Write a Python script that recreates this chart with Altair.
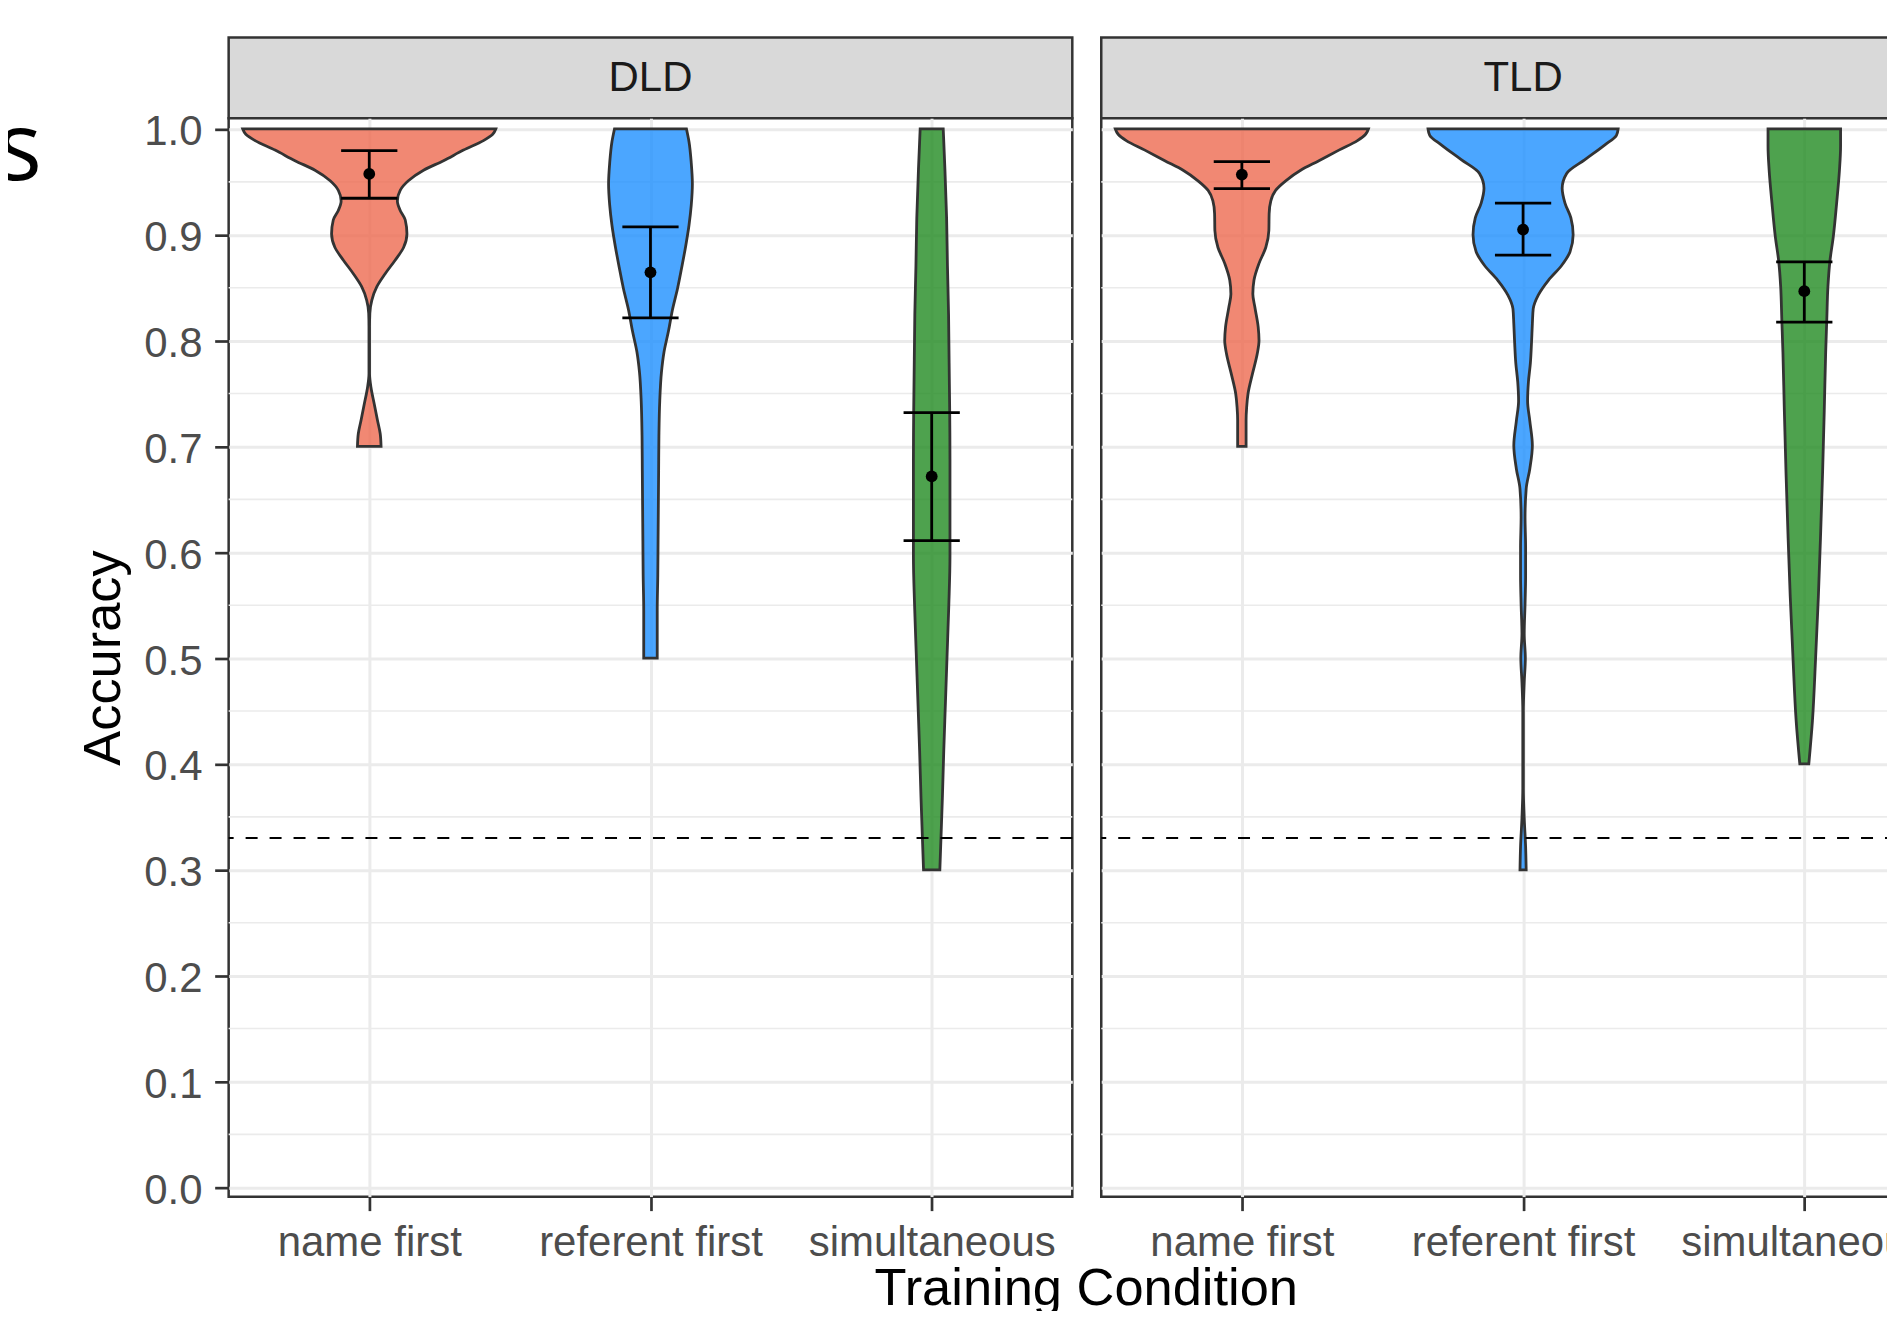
import altair as alt
import pandas as pd

# ---------------- data ----------------
conditions = ["name first", "referent first", "simultaneous"]
groups = ["DLD", "TLD"]
fill_colors = ["#EE6A50", "#1E90FF", "#228B22"]
clipped_title = "s"
x_title = "Training Condition"
y_title = "Accuracy"

# violin outlines: accuracy level and half-width (in category units)
dld_name_acc = [1.000, 0.995, 0.989, 0.980, 0.970, 0.961, 0.951, 0.942, 0.932, 0.923, 0.914, 0.901, 0.888,
                0.876, 0.863, 0.851, 0.838, 0.826, 0.813, 0.788, 0.769, 0.756, 0.741, 0.725, 0.712, 0.700]
dld_name_hw = [0.450, 0.439, 0.406, 0.335, 0.264, 0.193, 0.139, 0.110, 0.100, 0.110, 0.128, 0.134, 0.122,
               0.092, 0.056, 0.027, 0.009, 0.002, 0.001, 0.001, 0.001, 0.006, 0.017, 0.029, 0.039, 0.042]

dld_ref_acc = [1.000, 0.988, 0.968, 0.948, 0.928, 0.909, 0.889, 0.869, 0.849, 0.829, 0.809, 0.789, 0.770,
               0.743, 0.710, 0.677, 0.644, 0.611, 0.578, 0.545, 0.500]
dld_ref_hw = [0.128, 0.137, 0.145, 0.149, 0.145, 0.137, 0.125, 0.111, 0.096, 0.078, 0.064, 0.048, 0.039,
              0.033, 0.030, 0.029, 0.028, 0.027, 0.026, 0.024, 0.024]

dld_sim_acc = [1.000, 0.962, 0.916, 0.871, 0.825, 0.779, 0.734, 0.688, 0.642, 0.596, 0.551, 0.505, 0.459,
               0.413, 0.368, 0.300]
dld_sim_hw = [0.041, 0.047, 0.053, 0.056, 0.060, 0.062, 0.064, 0.065, 0.065, 0.065, 0.061, 0.055, 0.049,
              0.043, 0.038, 0.029]

tld_name_acc = [1.000, 0.995, 0.989, 0.980, 0.970, 0.961, 0.951, 0.942, 0.932, 0.920, 0.904, 0.888, 0.873,
                0.857, 0.844, 0.832, 0.813, 0.800, 0.788, 0.769, 0.750, 0.737, 0.725, 0.700]
tld_name_hw = [0.450, 0.440, 0.411, 0.345, 0.274, 0.209, 0.156, 0.120, 0.103, 0.097, 0.096, 0.085, 0.061,
               0.043, 0.039, 0.046, 0.058, 0.061, 0.055, 0.038, 0.022, 0.017, 0.015, 0.015]

tld_ref_acc = [1.000, 0.994, 0.985, 0.971, 0.958, 0.944, 0.930, 0.916, 0.900, 0.884, 0.871, 0.857, 0.843,
               0.830, 0.816, 0.798, 0.779, 0.761, 0.743, 0.724, 0.701, 0.679, 0.660, 0.633, 0.605, 0.578,
               0.551, 0.523, 0.500, 0.477, 0.450, 0.413, 0.377, 0.349, 0.322, 0.300]
tld_ref_hw = [0.338, 0.332, 0.291, 0.220, 0.155, 0.139, 0.149, 0.170, 0.178, 0.167, 0.137, 0.090, 0.054,
              0.036, 0.033, 0.030, 0.026, 0.019, 0.016, 0.024, 0.033, 0.024, 0.011, 0.007, 0.009, 0.009,
              0.007, 0.004, 0.008, 0.004, 0.001, 0.001, 0.001, 0.004, 0.009, 0.011]

tld_sim_acc = [1.000, 0.984, 0.961, 0.930, 0.898, 0.875, 0.851, 0.820, 0.789, 0.734, 0.675, 0.617, 0.558,
               0.499, 0.441, 0.400]
tld_sim_hw = [0.129, 0.129, 0.125, 0.115, 0.103, 0.091, 0.084, 0.080, 0.076, 0.071, 0.065, 0.058, 0.050,
              0.040, 0.029, 0.016]

# means and confidence intervals
mean_group = ["DLD", "DLD", "DLD", "TLD", "TLD", "TLD"]
mean_condition = conditions + conditions
mean_accuracy = [0.9575, 0.8645, 0.6717, 0.9569, 0.9049, 0.8467]
ci_lower = [0.9345, 0.8215, 0.6110, 0.9437, 0.8807, 0.8174]
ci_upper = [0.9795, 0.9075, 0.7320, 0.9692, 0.9300, 0.8744]

chance_level = [0.33]
y_major = [0.0, 0.1, 0.2, 0.3, 0.4, 0.5, 0.6, 0.7, 0.8, 0.9, 1.0]
y_minor = [0.05, 0.15, 0.25, 0.35, 0.45, 0.55, 0.65, 0.75, 0.85, 0.95]
x_positions = [1, 2, 3]

# ---------------- tables ----------------
violins = [
    ("DLD", "name first", dld_name_acc, dld_name_hw),
    ("DLD", "referent first", dld_ref_acc, dld_ref_hw),
    ("DLD", "simultaneous", dld_sim_acc, dld_sim_hw),
    ("TLD", "name first", tld_name_acc, tld_name_hw),
    ("TLD", "referent first", tld_ref_acc, tld_ref_hw),
    ("TLD", "simultaneous", tld_sim_acc, tld_sim_hw),
]
rows = []
for g, c, accs, hws in violins:
    pos = conditions.index(c) + 1
    for a, w in zip(accs, hws):
        rows.append({"group": g, "condition": c, "acc": a, "pos": pos, "hw": w})
violin_df = pd.DataFrame(rows)

mean_df = pd.DataFrame({
    "group": mean_group,
    "condition": mean_condition,
    "pos": [conditions.index(c) + 1 for c in mean_condition],
    "mean": mean_accuracy,
    "ci_lo": ci_lower,
    "ci_hi": ci_upper,
})
minor_df = pd.DataFrame({"v": y_minor})
chance_df = pd.DataFrame({"v": chance_level})

# ---------------- styling ----------------
FONT = "Liberation Sans"
PANEL_W = 845
PANEL_H = 1080
STRIP_H = 81
x_scale = alt.Scale(domain=[0.5, 3.5], nice=False, zero=False)
y_scale = alt.Scale(domain=[-0.0088, 1.0100], nice=False, zero=False)
color_scale = alt.Scale(domain=conditions, range=fill_colors)
label_expr = "[" + ", ".join("'%s'" % c for c in conditions) + "][datum.value - 1]"

tick_style = dict(tickColor="#333333", tickWidth=2.7, tickSize=14,
                  labelColor="#4D4D4D", labelFont=FONT, labelFontSize=42, labelLimit=600,
                  labelOverlap=False, domain=False,
                  grid=True, gridColor="#EBEBEB", gridWidth=3)


def make_x_axis(first):
    if first:
        return alt.Axis(values=x_positions, labelExpr=label_expr, labelFlush=False,
                        labelBaseline="alphabetic", labelPadding=44.5,
                        title=x_title, titleFont=FONT, titleFontSize=52.5, titleFontWeight="normal",
                        titleColor="black", titleX=858.5, titleY=108.5, titleAlign="center",
                        titleBaseline="alphabetic", titleLimit=1000, **tick_style)
    return alt.Axis(values=x_positions, labelExpr=label_expr, labelFlush=False,
                    labelBaseline="alphabetic", labelPadding=44.5, title=None, **tick_style)


def make_y_axis(first):
    if first:
        return alt.Axis(values=y_major, format=".1f", labelPadding=12.6, labelOffset=3,
                        title=y_title, titleFont=FONT, titleFontSize=52.5, titleFontWeight="normal",
                        titleColor="black", titleX=-109, titleY=PANEL_H / 2, titleAngle=270,
                        titleAlign="center", titleBaseline="alphabetic", **tick_style)
    return alt.Axis(values=y_major, labels=False, ticks=False, title=None, domain=False,
                    grid=True, gridColor="#EBEBEB", gridWidth=3)


def panel(g, first):
    x_axis = make_x_axis(first)
    y_axis = make_y_axis(first)

    def X(f):
        return alt.X(f, type="quantitative", scale=x_scale, axis=x_axis)

    def Y(f):
        return alt.Y(f, type="quantitative", scale=y_scale, axis=y_axis)

    vd = violin_df[violin_df["group"] == g]
    md = mean_df[mean_df["group"] == g]

    minor = alt.Chart(minor_df).mark_rule(color="#EBEBEB", strokeWidth=1.6).encode(y=Y("v"))

    violin = alt.Chart(vd).transform_calculate(
        lo="datum.pos - datum.hw", hi="datum.pos + datum.hw"
    ).mark_area(
        orient="horizontal", interpolate="monotone", stroke="#333333",
        strokeWidth=2.8, fillOpacity=0.8
    ).encode(
        y=Y("acc"), x=X("lo"), x2="hi:Q",
        color=alt.Color("condition:N", scale=color_scale, legend=None),
        detail="condition:N",
    )

    chance = alt.Chart(chance_df).mark_rule(
        color="black", strokeWidth=2, strokeDash=[12, 12]
    ).encode(y=Y("v"))

    bars = alt.Chart(md).mark_rule(color="black", strokeWidth=2.8).encode(
        x=X("pos"), y=Y("ci_lo"), y2="ci_hi:Q"
    )

    caps = alt.Chart(md).transform_calculate(
        a="datum.pos - 0.1", b="datum.pos + 0.1"
    ).transform_fold(["ci_lo", "ci_hi"], as_=["end", "val"]).mark_rule(
        color="black", strokeWidth=2.8
    ).encode(x=X("a"), x2="b:Q", y=Y("val"))

    points = alt.Chart(md).mark_circle(size=140, color="black", opacity=1).encode(
        x=X("pos"), y=Y("mean")
    )

    return alt.layer(minor, violin, chance, bars, caps, points).properties(
        width=PANEL_W, height=PANEL_H,
        view=alt.ViewBackground(fill="white", stroke="#333333", strokeWidth=2.5),
    )


def strip(g, first):
    base = alt.Chart(pd.DataFrame({"group": [g]}))
    lab = base.mark_text(font=FONT, fontSize=42, color="#1A1A1A", baseline="middle",
                         align="center").encode(
        x=alt.value(PANEL_W / 2), y=alt.value(41), text="group:N")
    layers = [lab]
    if first:
        s = base.mark_text(text=clipped_title, font="Open Sans", fontSize=95, color="black",
                           align="right", baseline="alphabetic").encode(
            x=alt.value(-187), y=alt.value(143))
        layers.append(s)
    return alt.layer(*layers).properties(
        width=PANEL_W, height=STRIP_H,
        view=alt.ViewBackground(fill="#D9D9D9", stroke="#333333", strokeWidth=2.5),
    )


cells = [strip(g, i == 0) for i, g in enumerate(groups)] + \
        [panel(g, i == 0) for i, g in enumerate(groups)]

chart = alt.concat(
    *cells, columns=2, spacing={"row": 0, "column": 29}, bounds="flush"
).properties(
    padding={"left": -13, "top": 26.5, "right": -61, "bottom": -8}
).configure(font=FONT, background="white")

chart.save("out.html", embed_options={"renderer": "svg", "actions": False})
